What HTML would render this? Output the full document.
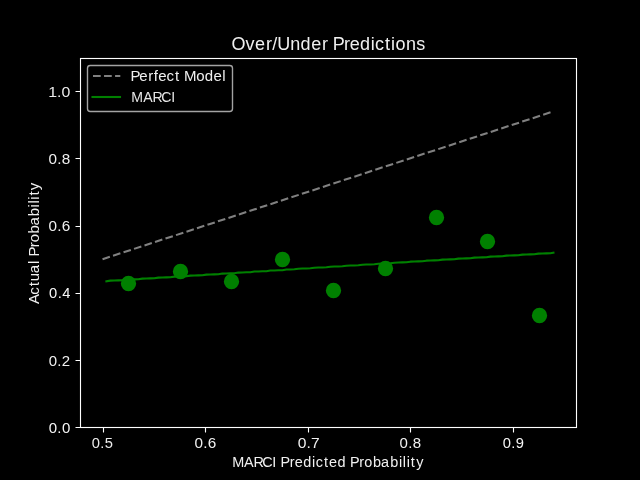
<!DOCTYPE html>
<html><head><meta charset="utf-8">
<style>
html,body{margin:0;padding:0;background:#000;width:640px;height:480px;overflow:hidden}
svg{display:block;position:absolute;left:0;top:0;will-change:transform}
text{font-family:"Liberation Sans",sans-serif;fill:#fff}
</style></head>
<body>
<svg width="640" height="480" viewBox="0 0 640 480">
<rect x="0" y="0" width="640" height="480" fill="#000"/>
<defs>
<clipPath id="ax"><rect x="80" y="57.6" width="496" height="369.6"/></clipPath>
</defs>
<g clip-path="url(#ax)" fill="#008000">
<circle cx="128.5" cy="283.5" r="7.64"/>
<circle cx="180.5" cy="271.5" r="7.64"/>
<circle cx="231.5" cy="281.5" r="7.64"/>
<circle cx="282.5" cy="259.5" r="7.64"/>
<circle cx="333.5" cy="290.5" r="7.64"/>
<circle cx="385.5" cy="268.5" r="7.64"/>
<circle cx="436.5" cy="217.5" r="7.64"/>
<circle cx="487.5" cy="241.5" r="7.64"/>
<circle cx="539.5" cy="315.5" r="7.64"/>
</g>
<g stroke="#fff" stroke-width="1.111" fill="none">
<path d="M103.5 427.5V432.5M205.5 427.5V432.5M308.5 427.5V432.5M410.5 427.5V432.5M513.5 427.5V432.5"/>
<path d="M80.5 427.5H75.5M80.5 360.5H75.5M80.5 293.5H75.5M80.5 226.5H75.5M80.5 158.5H75.5M80.5 91.5H75.5"/>
</g>
<g clip-path="url(#ax)" fill="none">
<path d="M102.55 259.2L553.45 111.36" stroke="#808080" stroke-width="2.083" stroke-dasharray="7.708,3.333"/>
<path d="M106.40 281.25L110.40 280.62L114.40 280.50L118.40 280.37L122.40 280.25L126.40 279.62L130.40 279.49L134.40 279.37L138.40 279.24L142.40 278.61L146.40 278.49L150.40 278.36L154.40 278.24L158.40 277.61L162.40 277.48L166.40 277.36L170.40 277.23L174.40 276.61L178.40 276.48L182.40 276.35L186.40 276.23L190.40 275.60L194.40 275.47L198.40 275.35L202.40 275.22L206.40 274.60L210.40 274.47L214.40 274.34L218.40 274.22L222.40 273.59L226.40 273.47L230.40 273.34L234.40 273.21L238.40 272.59L242.40 272.46L246.40 272.33L250.40 272.21L254.40 271.58L258.40 271.46L262.40 271.33L266.40 271.20L270.40 270.58L274.40 270.45L278.40 270.33L282.40 270.20L286.40 269.57L290.40 269.45L294.40 269.32L298.40 268.69L302.40 268.57L306.40 268.44L310.40 268.32L314.40 267.69L318.40 267.56L322.40 267.44L326.40 267.31L330.40 266.69L334.40 266.56L338.40 266.43L342.40 266.31L346.40 265.68L350.40 265.55L354.40 265.43L358.40 265.30L362.40 264.68L366.40 264.55L370.40 264.42L374.40 264.30L378.40 263.67L382.40 263.54L386.40 263.42L390.40 263.29L394.40 262.67L398.40 262.54L402.40 262.41L406.40 262.29L410.40 261.66L414.40 261.54L418.40 261.41L422.40 261.28L426.40 260.66L430.40 260.53L434.40 260.40L438.40 260.28L442.40 259.65L446.40 259.53L450.40 259.40L454.40 259.27L458.40 258.65L462.40 258.52L466.40 258.40L470.40 258.27L474.40 257.64L478.40 257.52L482.40 257.39L486.40 257.26L490.40 256.64L494.40 256.51L498.40 256.39L502.40 256.26L506.40 255.63L510.40 255.51L514.40 255.38L518.40 255.26L522.40 254.63L526.40 254.50L530.40 254.38L534.40 254.25L538.40 253.62L542.40 253.50L546.40 253.37L550.40 253.25L553.45 252.65" stroke="#008000" stroke-width="2.083" stroke-linecap="square" stroke-linejoin="round"/>
</g>
<rect x="80.5" y="58.5" width="496" height="369" fill="none" stroke="#fff" stroke-width="1.111"/>
<rect x="87.5" y="65.5" width="145" height="46" rx="2.78" ry="2.78" fill="#000" fill-opacity="0.8" stroke="#ccc" stroke-opacity="0.8" stroke-width="1.389"/>
<path d="M93 76H120.3" fill="none" stroke="#808080" stroke-width="2.083" stroke-dasharray="7.708,3.333"/>
<path d="M92.5 97H120" fill="none" stroke="#008000" stroke-width="2.083" stroke-linecap="square"/>
<text x="-0.44 13.55 23.14 33.97 40.40 45.30 58.21 68.65 79.20 90.04 96.15 100.74 111.95 117.84 128.13 138.84 143.03 153.03 159.17 163.57 173.99 184.20" y="0" font-size="18.00" fill-opacity="0.94" transform="translate(231.94 49.52)">Over/Under Predictions</text>
<text x="-0.02 11.91 21.32 30.00 40.18 44.23 48.25 57.50 62.46 71.03 79.87 83.44 91.72 96.76 105.33 113.84 117.86 127.11 132.02 140.76 148.82 158.09 166.76 170.61 174.48 178.68 183.94" y="0" font-size="14.44" fill-opacity="0.94" transform="translate(232.19 466.97)">MARCI Predicted Probability</text>
<text x="-0.26 9.16 17.50 22.54 30.69 39.92 43.51 47.34 56.67 61.54 70.27 78.32 87.60 96.37 100.22 104.09 108.28 113.48" y="0" font-size="15.00" fill-opacity="0.94" transform="translate(39.47 303.84) rotate(-90)">Actual Probability</text>
<text x="0.30 8.48 12.75" y="0" font-size="13.89" fill-opacity="0.92" transform="translate(91.36 447.50) scale(1.060 1)">0.5</text>
<text x="0.16 8.74 13.15" y="0" font-size="15.00" fill-opacity="0.94" transform="translate(194.37 447.50) scale(1.020 1)">0.6</text>
<text x="0.07 8.53 12.79" y="0" font-size="15.00" fill-opacity="0.94" transform="translate(297.75 447.50) scale(1.040 1)">0.7</text>
<text x="0.24 8.95 13.50" y="0" font-size="15.00" fill-opacity="0.94" transform="translate(399.26 447.50)">0.8</text>
<text x="0.32 8.99 13.53" y="0" font-size="14.72" fill-opacity="0.96" transform="translate(502.34 447.50)">0.9</text>
<text x="0.24 8.95 13.50" y="0" font-size="15.00" fill-opacity="0.96" transform="translate(48.40 432.73)">0.0</text>
<text x="0.24 8.95 13.31" y="0" font-size="15.00" fill-opacity="0.94" transform="translate(48.40 365.53)">0.2</text>
<text x="0.33 9.18 13.85" y="0" font-size="15.00" fill-opacity="0.96" transform="translate(48.65 297.58) scale(0.980 1)">0.4</text>
<text x="0.16 8.74 13.15" y="0" font-size="15.00" fill-opacity="0.94" transform="translate(48.28 230.88) scale(1.020 1)">0.6</text>
<text x="0.17 8.91 13.42" y="0" font-size="15.28" fill-opacity="0.94" transform="translate(48.28 163.68)">0.8</text>
<text x="-0.09 8.49 12.74" y="0" font-size="15.28" fill-opacity="0.92" transform="translate(48.28 96.73) scale(1.040 1)">1.0</text>
<text x="-0.59 8.00 17.03 22.66 27.15 35.46 43.80 48.64 52.81 65.12 73.70 82.48 91.16" y="0" font-size="15.00" fill-opacity="0.94" transform="translate(131.14 81.15)">Perfect Model</text>
<text x="0.11 12.52 22.33 31.36 41.90" y="0" font-size="14.72" fill-opacity="0.90" transform="translate(131.14 102.04) scale(0.960 1)">MARCI</text>
</svg>
</body></html>
